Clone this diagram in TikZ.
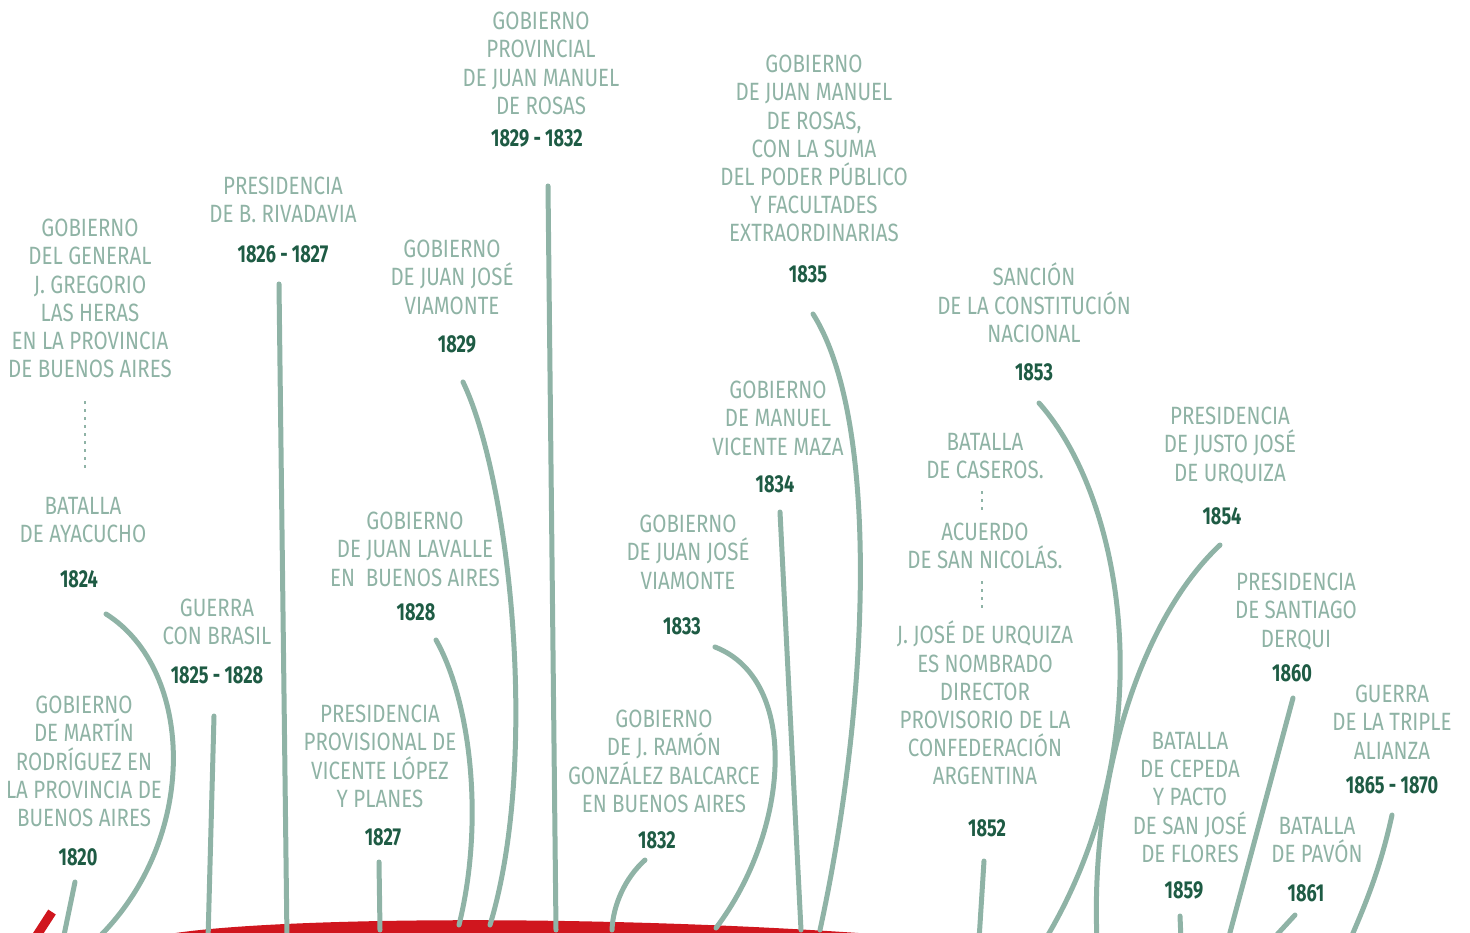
\documentclass[tikz,border=0pt]{standalone}
\usepackage{fontspec}
\setmainfont{Fira Sans}[FakeStretch=0.82]
\newfontfamily\yrfam{Fira Sans}[FakeStretch=0.74]
\definecolor{labc}{HTML}{8FB3A5}
\definecolor{yrc}{HTML}{1E5B44}
\definecolor{linec}{HTML}{8FB3A6}
\definecolor{redc}{HTML}{D0161E}
\tikzset{
  lab/.style={text=labc, align=center, font=\fontsize{25}{28.2}\selectfont, inner sep=0pt, anchor=north},
  yr/.style={text=yrc, font=\yrfam\bfseries\fontsize{24.5}{28}\selectfont, inner sep=0pt, anchor=north},
  stem/.style={draw=linec, line width=5pt, line cap=round},
  dotline/.style={draw=linec, line width=2.6pt, dash pattern=on 2.6pt off 5.4pt},
}
\begin{document}
\begin{tikzpicture}[x=1pt,y=-1pt]
\useasboundingbox (0,0) rectangle (1470,933);
\clip (0,0) rectangle (1470,933);
% red band
\fill[redc] (158,936) .. controls (250,917) and (600,913) .. (900,936) -- cycle;
\draw[redc, line width=9pt] (52,912) -- (30,946);

% labels
\node[lab] (rosasP) at (541,12) {GOBIERNO\\PROVINCIAL\\DE JUAN MANUEL\\DE ROSAS};
\node[yr] (yRosasP) at (537,129) {1829 - 1832};

\node[lab] (rosas2) at (814,55) {GOBIERNO\\DE JUAN MANUEL\\DE ROSAS,\\CON LA SUMA\\DEL PODER PÚBLICO\\Y FACULTADES\\EXTRAORDINARIAS};
\node[yr] (y1835) at (808,265) {1835};

\node[lab] (rivad) at (283,177) {PRESIDENCIA\\DE B. RIVADAVIA};
\node[yr] (y1826) at (283,245) {1826 - 1827};

\node[lab] (heras) at (90,219) {GOBIERNO\\DEL GENERAL\\J. GREGORIO\\LAS HERAS\\EN LA PROVINCIA\\DE BUENOS AIRES};
\node[lab] (ayac) at (83,497) {BATALLA\\DE AYACUCHO};
\node[yr] (y1824) at (79,570) {1824};

\node[lab] (viam1) at (452,240) {GOBIERNO\\DE JUAN JOSÉ\\VIAMONTE};
\node[yr] (y1829) at (457,335) {1829};

\node[lab] (maza) at (778,381) {GOBIERNO\\DE MANUEL\\VICENTE MAZA};
\node[yr] (y1834) at (775,475) {1834};

\node[lab] (const) at (1034,263) {SANCIÓN\\DE LA CONSTITUCIÓN\\NACIONAL};
\node[yr] (y1853) at (1034,363) {1853};

\node[lab] (caseros) at (985,433) {BATALLA\\DE CASEROS.};
\node[lab] (acuerdo) at (985,523) {ACUERDO\\DE SAN NICOLÁS.};
\node[lab] (urqdir) at (985,621) {J. JOSÉ DE URQUIZA\\ES NOMBRADO\\DIRECTOR\\PROVISORIO DE LA\\CONFEDERACIÓN\\ARGENTINA};
\node[yr] (y1852) at (987,819) {1852};

\node[lab] (urqpres) at (1230,407) {PRESIDENCIA\\DE JUSTO JOSÉ\\DE URQUIZA};
\node[yr] (y1854) at (1222,507) {1854};

\node[lab] (derqui) at (1296,573) {PRESIDENCIA\\DE SANTIAGO\\DERQUI};
\node[yr] (y1860) at (1292,664) {1860};

\node[lab] (triple) at (1392,685) {GUERRA\\DE LA TRIPLE\\ALIANZA};
\node[yr] (y1865) at (1392,776) {1865 - 1870};

\node[lab] (cepeda) at (1190,732) {BATALLA\\DE CEPEDA\\Y PACTO\\DE SAN JOSÉ\\DE FLORES};
\node[yr] (y1859) at (1184,881) {1859};

\node[lab] (pavon) at (1317,817) {BATALLA\\DE PAVÓN};
\node[yr] (y1861) at (1306,884) {1861};

\node[lab] (viam2) at (688,515) {GOBIERNO\\DE JUAN JOSÉ\\VIAMONTE};
\node[yr] (y1833) at (682,617) {1833};

\node[lab] (balc) at (664,710) {GOBIERNO\\DE J. RAMÓN\\GONZÁLEZ BALCARCE\\EN BUENOS AIRES};
\node[yr] (y1832) at (657,831) {1832};

\node[lab] (lavalle) at (415,512) {GOBIERNO\\DE JUAN LAVALLE\\EN\ \ BUENOS AIRES};
\node[yr] (y1828) at (416,603) {1828};

\node[lab] (lopez) at (380,705) {PRESIDENCIA\\PROVISIONAL DE\\VICENTE LÓPEZ\\Y PLANES};
\node[yr] (y1827) at (383,828) {1827};

\node[lab] (brasil) at (217,599) {GUERRA\\CON BRASIL};
\node[yr] (y1825) at (217,666) {1825 - 1828};

\node[lab] (martin) at (84,696) {GOBIERNO\\DE MARTÍN\\RODRÍGUEZ EN\\LA PROVINCIA DE\\BUENOS AIRES};
\node[yr] (y1820) at (78,848) {1820};

% dotted separators
\coordinate (d1a) at (85,401); \coordinate (d1b) at (85,472);
\draw[dotline] (d1a) -- (d1b);
\coordinate (d2a) at (982,491); \coordinate (d2b) at (982,512);
\draw[dotline] (d2a) -- (d2b);
\coordinate (d3a) at (982,581); \coordinate (d3b) at (982,612);
\draw[dotline] (d3a) -- (d3b);

% stems
\coordinate (a1) at (75,882);   \coordinate (b1) at (63,940);
\draw[stem] (a1) -- (b1);
\coordinate (a2) at (106,614);  \coordinate (b2) at (96,940);
\draw[stem] (a2) .. controls (195,670) and (200,840) .. (b2);
\coordinate (a3) at (214,716);  \coordinate (b3) at (208,940);
\draw[stem] (a3) -- (b3);
\coordinate (a4) at (279,284);  \coordinate (b4) at (287,940);
\draw[stem] (a4) -- (b4);
\coordinate (a5) at (379,862);  \coordinate (b5) at (380,930);
\draw[stem] (a5) -- (b5);
\coordinate (a6) at (436,640);  \coordinate (b6) at (459,925);
\draw[stem] (a6) .. controls (470,700) and (485,820) .. (b6);
\coordinate (a7) at (463,382);  \coordinate (b7) at (490,925);
\draw[stem] (a7) .. controls (510,480) and (540,760) .. (b7);
\coordinate (a8) at (548,186);  \coordinate (b8) at (556,930);
\draw[stem] (a8) -- (b8);
\coordinate (a9) at (645,860);  \coordinate (b9) at (612,930);
\draw[stem] (a9) .. controls (625,878) and (613,905) .. (b9);
\coordinate (a10) at (715,647); \coordinate (b10) at (716,928);
\draw[stem] (a10) .. controls (800,680) and (790,830) .. (b10);
\coordinate (a11) at (780,512); \coordinate (b11) at (801,930);
\draw[stem] (a11) -- (b11);
\coordinate (a12) at (813,314); \coordinate (b12) at (820,930);
\draw[stem] (a12) .. controls (880,420) and (870,700) .. (b12);
\coordinate (a13) at (984,861); \coordinate (b13) at (979,940);
\draw[stem] (a13) -- (b13);
\coordinate (a14) at (1039,403); \coordinate (b14) at (1045,940);
\draw[stem] (a14) .. controls (1125,500) and (1165,740) .. (b14);
\coordinate (a15) at (1220,545); \coordinate (b15) at (1097,940);
\draw[stem] (a15) .. controls (1140,620) and (1090,780) .. (b15);
\coordinate (a16) at (1180,916); \coordinate (b16) at (1181,940);
\draw[stem] (a16) -- (b16);
\coordinate (a17) at (1293,698); \coordinate (b17) at (1228,940);
\draw[stem] (a17) -- (b17);
\coordinate (a18) at (1295,915); \coordinate (b18) at (1272,940);
\draw[stem] (a18) -- (b18);
\coordinate (a19) at (1392,815); \coordinate (b19) at (1350,940);
\draw[stem] (a19) .. controls (1380,870) and (1365,905) .. (b19);
\end{tikzpicture}
\end{document}
